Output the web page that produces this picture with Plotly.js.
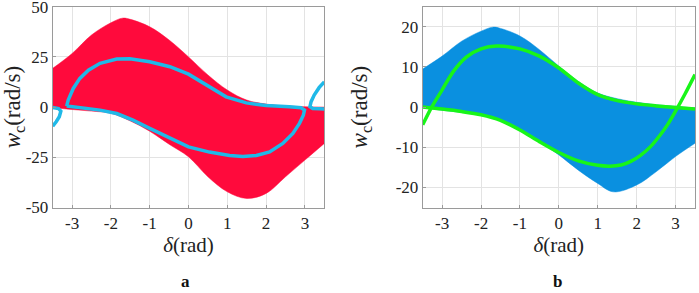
<!DOCTYPE html>
<html><head><meta charset="utf-8">
<script src="https://cdn.plot.ly/plotly-3.0.1.min.js"></script>
<style>html,body{margin:0;padding:0;background:#fff}#chart{width:699px;height:293px}</style>
</head><body><div id="chart"></div>
<script>
// ---- Panel a: red region boundaries ----
const redUpperX = [-3.5,-3,-2.5,-2,-1.7,-1.5,-1,-0.5,0,0.5,1,1.5,2,2.5,3,3.5];
const redUpperY = [19.3,26.7,35.9,42,44.3,43.7,40,33.4,25,16,8.5,3.5,1.5,0.5,0.2,0];
const redLowerX = [-3.5,-3,-2.5,-2,-1.5,-1,-0.5,0,0.5,1,1.5,2,2.5,3,3.5];
const redLowerY = [-0.3,-1.2,-2,-3.1,-6.9,-12,-18.5,-24.75,-34.7,-42.2,-45.5,-43,-34.7,-26.4,-18.1];
// ---- Panel a: cyan trajectory (closed loop + two edge pieces) ----
const cyanLoopX = [-3.14,-3.10,-2.97,-2.80,-2.58,-2.28,-1.85,-1.51,-1.0,-0.48,0,0.46,0.97,1.49,2.0,2.6,2.9,2.99,2.96,2.86,2.69,2.43,2.09,1.75,1.40,1.06,0.54,0,-0.48,-1.0,-1.43,-1.85,-2.28,-2.71,-3.05,-3.14];
const cyanLoopY = [0.5,3.5,9.3,14.3,18.4,21.8,23.9,24.1,22.6,20.1,16.4,11.0,5.1,2.1,0.8,0.2,-0.3,-1.5,-4.0,-8.1,-13.1,-18.1,-22.3,-24.1,-24.6,-24.1,-22.4,-19.8,-15.6,-10.6,-6.5,-3.2,-1.5,-0.7,0,0.5];
const cyanLeftX = [-3.5,-3.35,-3.29,-3.33,-3.41,-3.5];
const cyanLeftY = [-0.2,-0.7,-2.0,-4.8,-7.3,-9.5];
const cyanRightX = [3.5,3.37,3.24,3.16,3.13,3.20,3.37,3.5];
const cyanRightY = [12.6,9.8,6.0,2.7,0.2,-0.7,-0.8,-1.0];
// ---- Panel b: blue region boundaries ----
const blueUpperX = [-3.5,-3,-2.5,-2,-1.7,-1.5,-1,-0.5,0,0.5,1,1.5,2,2.5,3,3.5];
const blueUpperY = [9.5,12.7,16.4,18.9,19.9,19.6,17.7,14.3,10.2,6.4,3.5,2.1,1.2,0.6,0.2,-0.25];
const blueLowerX = [-3.5,-3,-2.5,-2,-1.5,-1,-0.5,0,0.5,1,1.4,2,2.5,3,3.5];
const blueLowerY = [0,-0.8,-1.3,-1.9,-3.2,-5.7,-8.6,-11.9,-15.7,-19,-21.1,-19.4,-16.1,-12.3,-9];
// ---- Panel b: green curves ----
const greenUpX = [-3.5,-3.27,-3,-2.71,-2.37,-2,-1.6,-1,-0.5,0,0.5,1,1.5,2,2.5,3,3.5];
const greenUpY = [-4.4,0,4.3,8.9,12.5,14.5,15.2,14.5,12.7,9.75,6,3.1,1.6,0.8,0.3,-0.1,-0.5];
const greenLowX = [-3.5,-3,-2.5,-2,-1.5,-1,-0.5,0,0.5,1,1.31,1.6,1.85,2.1,2.35,2.6,2.8,3,3.25,3.5];
const greenLowY = [0,-0.5,-1.1,-1.9,-3.3,-5.7,-8.6,-11.3,-13.4,-14.5,-14.7,-14.4,-13.5,-12,-9.9,-7,-4.3,-1,3.4,8.1];
// ---- ticks and labels ----
const xTickVals = [-3,-2,-1,0,1,2,3];
const xTickText = ['-3','-2','-1','0','1','2','3'];
const yTickValsA = [-50,-25,0,25,50];
const yTickTextA = ['-50','-25','0','25','50'];
const yTickValsB = [-20,-10,0,10,20];
const yTickTextB = ['-20','-10','0','10','20'];
const xTitle = '<i>δ</i>(rad)';
const yTitle = '<i>w</i><sub>c</sub>(rad/s)';
const panelLabels = ['a','b'];

const RED = '#ff0a3c', CYAN = '#1fb9e8', BLUE = '#0a90e0', GREEN = '#18f518';
const FONT = 'Liberation Serif';

const traces = [
  {x: redLowerX, y: redLowerY, xaxis:'x', yaxis:'y', mode:'lines', line:{color:RED, width:0.5, shape:'spline'}, hoverinfo:'skip', showlegend:false},
  {x: redUpperX, y: redUpperY, xaxis:'x', yaxis:'y', mode:'lines', fill:'tonexty', fillcolor:RED, line:{color:RED, width:0.5, shape:'spline'}, hoverinfo:'skip', showlegend:false},
  {x: cyanLoopX, y: cyanLoopY, xaxis:'x', yaxis:'y', mode:'lines', line:{color:CYAN, width:3.5}, showlegend:false},
  {x: cyanLeftX, y: cyanLeftY, xaxis:'x', yaxis:'y', mode:'lines', line:{color:CYAN, width:3.5}, showlegend:false},
  {x: cyanRightX, y: cyanRightY, xaxis:'x', yaxis:'y', mode:'lines', line:{color:CYAN, width:3.5}, showlegend:false},
  {x: blueLowerX, y: blueLowerY, xaxis:'x2', yaxis:'y2', mode:'lines', line:{color:BLUE, width:0.5, shape:'spline'}, hoverinfo:'skip', showlegend:false},
  {x: blueUpperX, y: blueUpperY, xaxis:'x2', yaxis:'y2', mode:'lines', fill:'tonexty', fillcolor:BLUE, line:{color:BLUE, width:0.5, shape:'spline'}, hoverinfo:'skip', showlegend:false},
  {x: greenUpX, y: greenUpY, xaxis:'x2', yaxis:'y2', mode:'lines', line:{color:GREEN, width:3.5, shape:'spline', smoothing:0.8}, showlegend:false},
  {x: greenLowX, y: greenLowY, xaxis:'x2', yaxis:'y2', mode:'lines', line:{color:GREEN, width:3.5, shape:'spline', smoothing:0.8}, showlegend:false}
];

function xa(domain, anchor){
  return {domain: domain, anchor: anchor, range:[-3.5,3.5], tickmode:'array', tickvals:xTickVals, ticktext:xTickText,
    showgrid:true, gridcolor:'#e3e3e3', zeroline:false, showline:true, linecolor:'#9a9a9a', linewidth:1, mirror:true,
    ticks:'inside', ticklen:3, tickcolor:'#9a9a9a',
    tickfont:{family:FONT, size:17, color:'#222'},
    title:{text:xTitle, font:{family:FONT, size:21, color:'#222'}, standoff:4}, fixedrange:true};
}
function ya(domain, range, vals, text, anchor){
  return {domain: domain, range:range, tickmode:'array', tickvals:vals, ticktext:text, anchor:anchor,
    showgrid:true, gridcolor:'#e3e3e3', zeroline:false, showline:true, linecolor:'#9a9a9a', linewidth:1, mirror:true,
    ticks:'inside', ticklen:3, tickcolor:'#9a9a9a', ticklabeloverflow:'allow',
    tickfont:{family:FONT, size:17, color:'#222'},
    title:{text:yTitle, font:{family:FONT, size:23, color:'#222'}}, fixedrange:true};
}
const yDom = [1-207.5/293, 1-6.7/293];
const layout = {
  width:699, height:293, margin:{l:0,r:0,t:0,b:0}, paper_bgcolor:'#fff', plot_bgcolor:'#fff',
  font:{family:FONT, color:'#222'},
  xaxis: xa([52.7/699, 324.3/699], 'y'),
  yaxis: ya(yDom, [-50,50], yTickValsA, yTickTextA, 'x'),
  xaxis2: xa([422.7/699, 695/699], 'y2'),
  yaxis2: ya(yDom, [-25,25], yTickValsB, yTickTextB, 'x2'),
  annotations:[
    {text:'<b>'+panelLabels[0]+'</b>', xref:'paper', yref:'paper', x:185.5/699, y:1-281/293, xanchor:'center', yanchor:'middle', showarrow:false, font:{family:FONT, size:17, color:'#111'}},
    {text:'<b>'+panelLabels[1]+'</b>', xref:'paper', yref:'paper', x:557.5/699, y:1-281/293, xanchor:'center', yanchor:'middle', showarrow:false, font:{family:FONT, size:17, color:'#111'}}
  ],
  showlegend:false
};
Plotly.newPlot('chart', traces, layout, {displayModeBar:false, staticPlot:true});
</script></body></html>
